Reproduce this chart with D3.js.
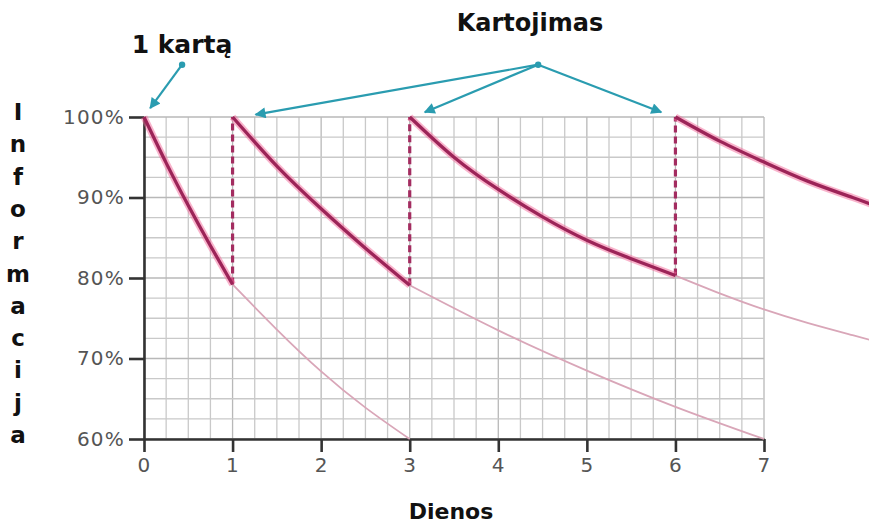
<!DOCTYPE html>
<html lang="lt">
<head>
<meta charset="UTF-8">
<title>Kartojimas</title>
<style>
    body { margin: 0; background: #fff; }
    svg { display: block; }
    .grid line { stroke: #c9c9c9; stroke-width: 1.3px; }
    .grid line.major { stroke: #b8b8b8; }
    .axis path, .axis line { stroke: #333; stroke-width: 2.6px; }
    .axis text { font-family: "DejaVu Sans", sans-serif; font-size: 20px; fill: #555; letter-spacing: 1.2px; }
    .ttl { font-family: "DejaVu Sans", sans-serif; font-weight: bold; fill: #111; }
</style>
</head>
<body>
<div id="chart"></div>
<script src="https://d3js.org/d3.v7.min.js"></script>
<script>
    // dienos ir procentai
    const days = [0, 1, 2, 3, 4, 5, 6, 7];
    const pctTicks = [60, 70, 80, 90, 100];

    // kreivės (diena, %)
    const learn1 = [[0, 100], [0.25, 94.3], [0.5, 89.0], [0.75, 84.0], [1, 79.2]];
    const learn2 = [[1, 100], [1.5, 93.9], [2, 88.6], [2.5, 83.7], [3, 79.1]];
    const learn3 = [[3, 100], [3.5, 95], [4, 91], [4.5, 87.6], [5, 84.7], [5.5, 82.4], [6, 80.3]];
    const learn4 = [[6, 100], [6.5, 97], [7, 94.4], [7.5, 92], [8, 90], [8.2, 89.2]];

    const fade1 = [[1, 79.2], [1.5, 73.6], [2, 68.4], [2.5, 63.9], [3, 60]];
    const fade2 = [[3, 79.1], [4, 73.5], [5, 68.5], [6, 64], [7, 60]];
    const fade3 = [[6, 80.3], [6.5, 78.1], [7, 76.1], [7.5, 74.4], [8, 72.9], [8.2, 72.3]];

    // kartojimo dienos (diena, % prieš kartojimą)
    const dashTops = [[1, 79.2], [3, 79.1], [6, 80.3]];

    const width = 869, height = 523;

    const svg = d3.select("#chart").append("svg")
        .attr("width", width)
        .attr("height", height);

    const x = d3.scaleLinear().domain([0, 7]).range([144, 764]);
    const y = d3.scaleLinear().domain([60, 100]).range([439, 117]);

    // tinklelis
    const grid = svg.append("g").attr("class", "grid");
    grid.selectAll(".v")
        .data(d3.range(0, 7.001, 0.25))
        .enter().append("line")
        .attr("class", d => Number.isInteger(d) ? "major" : "")
        .attr("x1", d => x(d)).attr("x2", d => x(d))
        .attr("y1", y(100)).attr("y2", y(60));
    grid.selectAll(".h")
        .data(d3.range(60, 100.001, 2.5))
        .enter().append("line")
        .attr("class", d => d % 10 === 0 ? "major" : "")
        .attr("x1", x(0)).attr("x2", x(7))
        .attr("y1", d => y(d)).attr("y2", d => y(d));

    // ašys
    svg.append("g")
        .attr("class", "axis")
        .attr("transform", "translate(" + x(0) + ",0)")
        .call(d3.axisLeft(y).tickValues(pctTicks).tickSize(15).tickSizeOuter(0)
            .tickPadding(4).tickFormat(d => d + "%"));
    svg.append("g")
        .attr("class", "axis")
        .attr("transform", "translate(0," + y(60) + ")")
        .call(d3.axisBottom(x).tickValues(days).tickSize(13).tickSizeOuter(0)
            .tickPadding(6).tickFormat(d3.format("d")));

    const line = d3.line()
        .x(d => x(d[0]))
        .y(d => y(d[1]))
        .curve(d3.curveNatural);

    // blankstančios kreivės
    svg.selectAll(".fade")
        .data([fade1, fade2, fade3])
        .enter().append("path")
        .attr("d", line)
        .attr("fill", "none")
        .attr("stroke", "#d9a6b8")
        .attr("stroke-width", 1.8);

    // punktyrai
    svg.selectAll(".dash")
        .data(dashTops)
        .enter().append("line")
        .attr("x1", d => x(d[0])).attr("x2", d => x(d[0]))
        .attr("y1", d => y(d[1])).attr("y2", y(100))
        .attr("stroke", "#a32c60")
        .attr("stroke-width", 3.2)
        .attr("stroke-dasharray", "7,4");

    // mokymosi kreivės
    const learns = [learn1, learn2, learn3, learn4];
    svg.selectAll(".glow")
        .data(learns)
        .enter().append("path")
        .attr("d", line)
        .attr("fill", "none")
        .attr("stroke", "#f36a9a")
        .attr("stroke-opacity", 0.5)
        .attr("stroke-width", 7);
    svg.selectAll(".learn")
        .data(learns)
        .enter().append("path")
        .attr("d", line)
        .attr("fill", "none")
        .attr("stroke", "#9c2458")
        .attr("stroke-width", 3.3);

    // rodyklės
    const defs = svg.append("defs");
    defs.append("marker")
        .attr("id", "arr")
        .attr("viewBox", "0 0 10 10")
        .attr("refX", 9).attr("refY", 5)
        .attr("markerWidth", 6).attr("markerHeight", 5)
        .attr("markerUnits", "strokeWidth")
        .attr("orient", "auto")
        .append("path")
        .attr("d", "M0,0 L10,5 L0,10 Z")
        .attr("fill", "#2a9cb0");

    const arrows = [
        { from: [0.43, 106.5], to: [0.07, 101.1] },
        { from: [4.45, 106.5], to: [1.26, 100.3] },
        { from: [4.45, 106.5], to: [3.17, 100.6] },
        { from: [4.45, 106.5], to: [5.84, 100.6] }
    ];
    svg.selectAll(".arrow")
        .data(arrows)
        .enter().append("line")
        .attr("x1", d => x(d.from[0])).attr("y1", d => y(d.from[1]))
        .attr("x2", d => x(d.to[0])).attr("y2", d => y(d.to[1]))
        .attr("stroke", "#2a9cb0")
        .attr("stroke-width", 2.2)
        .attr("marker-end", "url(#arr)");
    svg.selectAll(".dot")
        .data([[0.43, 106.5], [4.45, 106.5]])
        .enter().append("circle")
        .attr("cx", d => x(d[0])).attr("cy", d => y(d[1]))
        .attr("r", 3.2)
        .attr("fill", "#2a9cb0");

    // užrašai
    svg.append("text").attr("class", "ttl")
        .attr("x", 182).attr("y", 53)
        .attr("text-anchor", "middle")
        .style("font-size", "25px")
        .text("1 kartą");
    svg.append("text").attr("class", "ttl")
        .attr("x", 530).attr("y", 31)
        .attr("text-anchor", "middle")
        .style("font-size", "24px")
        .text("Kartojimas");
    svg.append("text").attr("class", "ttl")
        .attr("x", 451).attr("y", 519)
        .attr("text-anchor", "middle")
        .style("font-size", "22px")
        .text("Dienos");

    const yTitle = "Informacija".split("");
    svg.selectAll(".ylet")
        .data(yTitle)
        .enter().append("text")
        .attr("class", "ttl")
        .attr("x", 18)
        .attr("y", (d, i) => 112 + i * 32.3)
        .attr("dy", "0.35em")
        .attr("text-anchor", "middle")
        .style("font-size", "23px")
        .text(d => d);
</script>
</body>
</html>
